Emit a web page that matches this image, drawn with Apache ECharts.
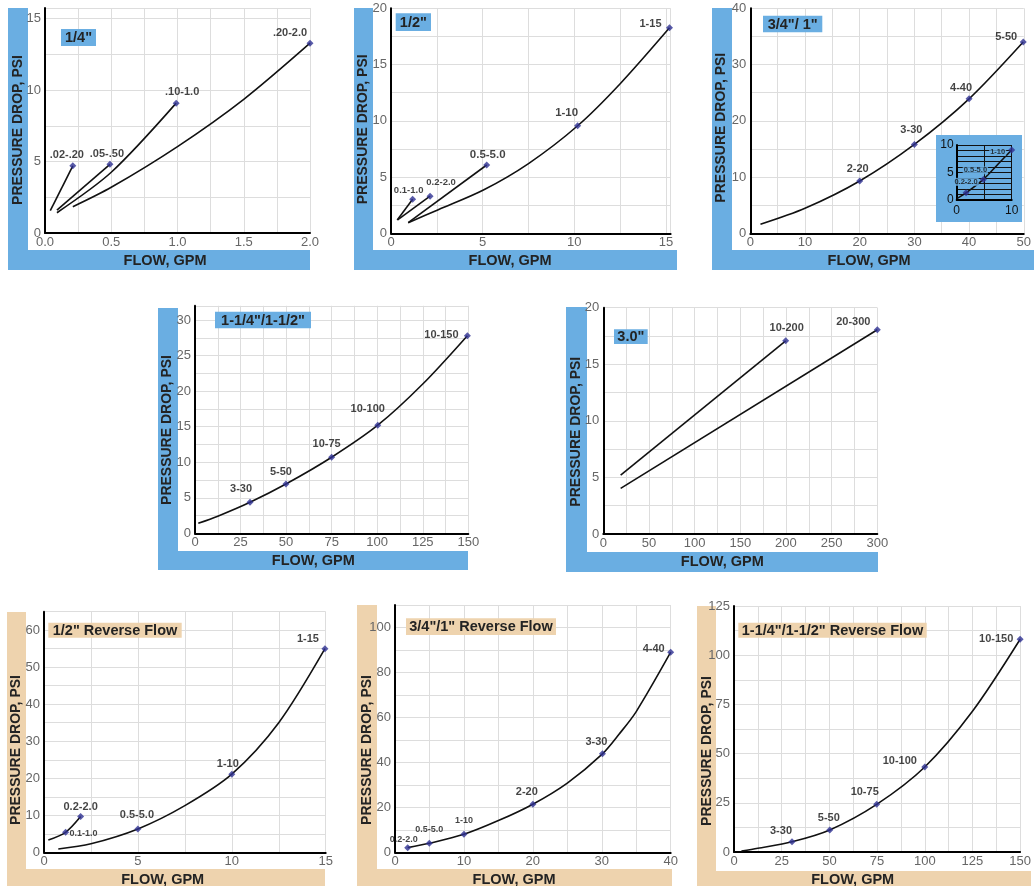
<!DOCTYPE html>
<html><head><meta charset="utf-8">
<script src="https://cdn.jsdelivr.net/npm/echarts@6/dist/echarts.min.js"></script>
<style>html,body{margin:0;padding:0;background:#fff}#c{width:1034px;height:886px}</style>
</head><body><div id="c"></div>
<script>
// ---------------- DATA ----------------
// Panel 1: 1/4"
const Q14_CURVE_02_20 = [[0.04,1.56],[0.21,4.7]];
const Q14_CURVE_05_50 = [[0.09,1.6],[0.49,4.81]];
const Q14_CURVE_10_10 = [[0.09,1.42],[0.5,4.25],[0.99,9.09]];
const Q14_CURVE_20_20 = [[0.21,1.84],[0.5,3.2],[1.0,6.05],[1.5,9.36],[2.0,13.29]];
const Q14_MARKERS = [[0.21,4.7],[0.49,4.81],[0.99,9.09],[2.0,13.29]];
const Q14_NAMES = ['.02-.20','.05-.50','.10-1.0','.20-2.0'];
const Q14_XTICKS = [0,0.5,1,1.5,2];
const Q14_YTICKS = [0,5,10,15];

// Panel 2: 1/2"
const H12_CURVE_01_10 = [[0.34,1.18],[1.18,3.02]];
const H12_CURVE_02_20 = [[0.36,1.2],[2.13,3.3]];
const H12_CURVE_05_50 = [[0.94,0.94],[5.22,6.07]];
const H12_CURVE_1_15 = [[0.94,0.94],[2.58,2.1],[5.04,3.85],[7.5,6.2],[10.18,9.56],[12.5,13.3],[15.19,18.27]];
const H12_MARKERS = [[1.18,3.02],[2.13,3.3],[5.22,6.07],[10.18,9.56],[15.19,18.27]];
const H12_NAMES = ['0.1-1.0','0.2-2.0','0.5-5.0','1-10','1-15'];
const H12_XTICKS = [0,5,10,15];
const H12_YTICKS = [0,5,10,15,20];

// Panel 3: 3/4"/ 1"
const T34_CURVE = [[1.86,1.6],[10,4.44],[20,9.3],[30,15.8],[40,23.9],[49.9,34.0]];
const T34_MARKERS = [[20,9.3],[30,15.8],[40,23.9],[49.9,34.0]];
const T34_NAMES = ['2-20','3-30','4-40','5-50'];
const T34_XTICKS = [0,10,20,30,40,50];
const T34_YTICKS = [0,10,20,30,40];
// inset of panel 3
const T34_INSET_CURVE = [[0.1,0.3],[1.7,1.3],[4.85,3.75],[7.5,6.5],[10,9.1]];
const T34_INSET_MARKERS = [[1.7,1.3],[4.85,3.75],[10,9.1]];
const T34_INSET_NAMES = ['0.2-2.0','0.5-5.0','1-10'];
const T34_INSET_XTICKS = [0,10];
const T34_INSET_YTICKS = [0,5,10];

// Panel 4: 1-1/4"/1-1/2"
const Q114_CURVE = [[1.8,1.4],[12.5,2.4],[30.2,4.36],[49.9,6.93],[75,10.7],[100.3,15.2],[125,21.0],[149.5,27.8]];
const Q114_MARKERS = [[30.2,4.36],[49.9,6.93],[75,10.7],[100.3,15.2],[149.5,27.8]];
const Q114_NAMES = ['3-30','5-50','10-75','10-100','10-150'];
const Q114_XTICKS = [0,25,50,75,100,125,150];
const Q114_YTICKS = [0,5,10,15,20,25,30];

// Panel 5: 3.0"
const T30_CURVE_10_200 = [[19,5.2],[199.7,17.07]];
const T30_CURVE_20_300 = [[19,4.03],[300,18.05]];
const T30_MARKERS = [[199.7,17.07],[300,18.05]];
const T30_NAMES = ['10-200','20-300'];
const T30_XTICKS = [0,50,100,150,200,250,300];
const T30_YTICKS = [0,5,10,15,20];

// Panel 6: 1/2" Reverse Flow
const R12_CURVE_LOW = [[0.23,3.33],[1.15,5.4],[1.95,9.65]];
const R12_CURVE_MAIN = [[0.76,0.9],[2.5,2.3],[5,6.3],[7.5,12.6],[10,21.1],[12.5,35],[14.96,55]];
const R12_MARKERS = [[1.15,5.4],[1.95,9.65],[5,6.3],[10,21.1],[14.96,55]];
const R12_NAMES = ['0.1-1.0','0.2-2.0','0.5-5.0','1-10','1-15'];
const R12_XTICKS = [0,5,10,15];
const R12_YTICKS = [0,10,20,30,40,50,60];

// Panel 7: 3/4"/1" Reverse Flow
const R34_CURVE = [[1.84,2.07],[4.98,4.0],[10,8.0],[15,14.1],[20,21.4],[25,30.8],[30.1,43.8],[32.5,52.5],[35,62.6],[40,89]];
const R34_MARKERS = [[1.84,2.07],[4.98,4.0],[10,8.0],[20,21.4],[30.1,43.8],[40,89]];
const R34_NAMES = ['0.2-2.0','0.5-5.0','1-10','2-20','3-30','4-40'];
const R34_XTICKS = [0,10,20,30,40];
const R34_YTICKS = [0,20,40,60,80,100];

// Panel 8: 1-1/4"/1-1/2" Reverse Flow
const R114_CURVE = [[3.9,0.5],[12.5,1.9],[30.4,5.2],[50.2,11.2],[74.8,24.2],[100,43.2],[125,71.5],[150,108.1]];
const R114_MARKERS = [[30.4,5.2],[50.2,11.2],[74.8,24.2],[100,43.2],[150,108.1]];
const R114_NAMES = ['3-30','5-50','10-75','10-100','10-150'];
const R114_XTICKS = [0,25,50,75,100,125,150];
const R114_YTICKS = [0,25,50,75,100,125];

// ---------------- LAYOUT & STYLE ----------------
const BLUE = '#6aaee2', TAN = '#eed3ae', MARK = '#2e3192';
const TICK_FONT = '"Liberation Sans Narrow","Arial Narrow",sans-serif';
const BOLD_FONT = '"Liberation Sans",Arial,sans-serif';

const GRIDS = [
  {left:45, top:8, width:265, height:225},
  {left:391, top:8.3, width:279.6, height:225},
  {left:750.3, top:8.3, width:280, height:225},
  {left:195, top:305.8, width:273.3, height:227.5},
  {left:603.3, top:307.7, width:274, height:226.3},
  {left:44, top:611.7, width:281.7, height:240.6},
  {left:395, top:605, width:275.7, height:247.3},
  {left:734, top:606, width:296, height:246},
  {left:956.7, top:145, width:55, height:55}
];

function fmtFor(vals, dec){
  return v => vals.some(t => Math.abs(t - v) < 1e-6) ? (dec != null ? v.toFixed(dec) : String(v)) : '';
}
function mkAxis(grid, min, max, interval, ticks, isX, o){
  o = o || {};
  return {
    type:'value', gridIndex:grid, min:min, max:max, interval:interval, z:o.z || 0,
    axisLine:{show:true, onZero:false, lineStyle:{color:'#000', width:2}},
    axisTick:{show:false},
    splitLine:{show:true, lineStyle:{color:o.split || '#dddddd', width:1}},
    axisLabel:{show:true, margin: o.margin != null ? o.margin : (isX ? 3 : 4), color:o.color || '#666666',
      fontFamily:o.font || TICK_FONT, fontSize:o.size || 13, formatter:fmtFor(ticks, o.dec),
      showMinLabel:true, showMaxLabel:true}
  };
}
const xAxes = [
  mkAxis(0,0,2,0.25,Q14_XTICKS,true,{dec:1}),
  mkAxis(1,0,15.25,2.5,H12_XTICKS,true),
  mkAxis(2,0,50,5,T34_XTICKS,true),
  mkAxis(3,0,150,12.5,Q114_XTICKS,true),
  mkAxis(4,0,300,25,T30_XTICKS,true),
  mkAxis(5,0,15,2.5,R12_XTICKS,true),
  mkAxis(6,0,40,5,R34_XTICKS,true),
  mkAxis(7,0,150,12.5,R114_XTICKS,true),
  mkAxis(8,0,10,5,T34_INSET_XTICKS,true,{z:6, split:'#111', color:'#111', font:BOLD_FONT, size:12, margin:5})
];
const yAxes = [
  mkAxis(0,0,15.75,2.5,Q14_YTICKS,false),
  mkAxis(1,0,20,2.5,H12_YTICKS,false),
  mkAxis(2,0,40,5,T34_YTICKS,false),
  mkAxis(3,0,32,2.5,Q114_YTICKS,false),
  mkAxis(4,0,20,2.5,T30_YTICKS,false),
  mkAxis(5,0,65,5,R12_YTICKS,false),
  mkAxis(6,0,110,10,R34_YTICKS,false),
  mkAxis(7,0,125,12.5,R114_YTICKS,false),
  mkAxis(8,0,10,1,T34_INSET_YTICKS,false,{z:6, split:'#111', color:'#111', font:BOLD_FONT, size:12, margin:3})
];

function lineS(idx, data, z){
  return {type:'line', xAxisIndex:idx, yAxisIndex:idx, data:data, smooth:0.3,
    symbol:'none', lineStyle:{color:'#111', width:1.6}, z:z || 3, silent:true};
}
function markS(idx, pts, names, offsets, sizes, z, bg){
  return {type:'scatter', xAxisIndex:idx, yAxisIndex:idx, symbol:'diamond', symbolSize:7, z:z || 4,
    itemStyle:{color:MARK}, silent:true,
    data: pts.map((p,i) => {
      const s = sizes ? sizes[i] : 11;
      const lab = {offset:offsets[i], fontSize:s, fontFamily: s < 10 ? TICK_FONT : BOLD_FONT};
      if (bg) { lab.backgroundColor = bg; lab.padding = [0,1]; }
      return {name:names[i], value:p, label:lab};
    }),
    label:{show:true, position:'inside', formatter:'{b}', color:'#141414', fontWeight:'bold', fontSize:11}
  };
}

const series = [
  lineS(0,Q14_CURVE_02_20), lineS(0,Q14_CURVE_05_50), lineS(0,Q14_CURVE_10_10), lineS(0,Q14_CURVE_20_20),
  markS(0,Q14_MARKERS,Q14_NAMES,[[-6,-11],[-3,-10],[6,-11],[-20,-10]]),
  lineS(1,H12_CURVE_01_10), lineS(1,H12_CURVE_02_20), lineS(1,H12_CURVE_05_50), lineS(1,H12_CURVE_1_15),
  markS(1,H12_MARKERS,H12_NAMES,[[-4,-9],[11,-14],[1,-10],[-11,-13],[-19,-4]],[9.5,9.5,11.5,11.5,11]),
  lineS(2,T34_CURVE),
  markS(2,T34_MARKERS,T34_NAMES,[[-2,-12],[-3,-14],[-8,-11],[-17,-5]]),
  lineS(8,T34_INSET_CURVE,7),
  markS(8,T34_INSET_MARKERS,T34_INSET_NAMES,[[0,-11],[-8,-9],[-14,2]],[7.5,7.5,7.5],8,BLUE),
  lineS(3,Q114_CURVE),
  markS(3,Q114_MARKERS,Q114_NAMES,[[-9,-13],[-5,-12],[-5,-13],[-10,-16],[-26,-1]]),
  lineS(4,T30_CURVE_10_200), lineS(4,T30_CURVE_20_300),
  markS(4,T30_MARKERS,T30_NAMES,[[1,-13],[-24,-8]]),
  lineS(5,R12_CURVE_LOW), lineS(5,R12_CURVE_MAIN),
  markS(5,R12_MARKERS,R12_NAMES,[[18,1],[0,-10],[-1,-14],[-4,-10],[-17,-10]],[9,11,11,11,11]),
  lineS(6,R34_CURVE),
  markS(6,R34_MARKERS,R34_NAMES,[[-4,-8],[0,-14],[0,-14],[-6,-12],[-6,-12],[-17,-3]],[9,9,9,11,11,11]),
  lineS(7,R114_CURVE),
  markS(7,R114_MARKERS,R114_NAMES,[[-11,-11],[-1,-12],[-12,-12],[-25,-6],[-24,0]])
];

// backgrounds (L-shaped strips), axis titles, title boxes
const STRIPS = [
  [BLUE,[8,8,20,262],[8,250,302,20]],
  [BLUE,[354,8,19,262],[354,250,323,20]],
  [BLUE,[712,8,20,262],[712,250,322,20]],
  [BLUE,[158,308,20,262],[158,551,310,19]],
  [BLUE,[566,307,21,265],[566,552,312,20]],
  [TAN,[7,612,19,274],[7,869,318,17]],
  [TAN,[357,605,20,281],[357,869,315,17]],
  [TAN,[697,606,19,280],[697,871,334,15]]
];
const AXIS_TITLES = [
  [[18,130],[165,261]], [[363.3,129.3],[510,261]], [[721.3,127.7],[869,261]],
  [[167.3,430],[313.3,561]], [[575.7,431.7],[722.3,561.7]],
  [[16,750],[162.7,880]], [[366.7,750],[514,880]], [[706.7,751],[852.7,880]]
];
const TITLES = [
  ['1/4"',BLUE,[61,29,35,17]],
  ['1/2"',BLUE,[395.7,13.3,35.3,17.7]],
  ['3/4"/ 1"',BLUE,[763,15.7,59.3,16.6]],
  ['1-1/4"/1-1/2"',BLUE,[215,311.7,96,16.6]],
  ['3.0"',BLUE,[614,329.3,33.7,14.7]],
  ['1/2" Reverse Flow',TAN,[48.3,622.7,133.4,15]],
  ['3/4"/1" Reverse Flow',TAN,[406,618.3,150,16.7]],
  ['1-1/4"/1-1/2" Reverse Flow',TAN,[738.3,622.7,188.4,15]]
];
const graphics = [];
STRIPS.forEach(s => {
  [s[1], s[2]].forEach(r => graphics.push({type:'rect', silent:true, z:0,
    shape:{x:r[0], y:r[1], width:r[2], height:r[3]}, style:{fill:s[0]}}));
});
const txt = (t, x, y, font, rot, z) => ({type:'text', silent:true, z:z, x:x, y:y, rotation:rot || 0,
  style:{text:t, font:font, fill:'#232323', align:'center', verticalAlign:'middle', textAlign:'center', textVerticalAlign:'middle'}});
AXIS_TITLES.forEach(a => {
  graphics.push(txt('PRESSURE DROP, PSI', a[0][0], a[0][1], 'bold 14px "Liberation Sans", Arial, sans-serif', Math.PI/2, 1));
  graphics.push(txt('FLOW, GPM', a[1][0], a[1][1], 'bold 14.5px "Liberation Sans", Arial, sans-serif', 0, 1));
});
TITLES.forEach(t => {
  const r = t[2];
  graphics.push({type:'rect', silent:true, z:10, shape:{x:r[0], y:r[1], width:r[2], height:r[3]}, style:{fill:t[1]}});
  graphics.push(txt(t[0], r[0] + r[2]/2, r[1] + r[3]/2 + 0.5, 'bold 14.5px "Liberation Sans", Arial, sans-serif', 0, 11));
});
// inset background box
graphics.push({type:'rect', silent:true, z:5, shape:{x:936, y:135, width:86, height:87}, style:{fill:BLUE}});

const chart = echarts.init(document.getElementById('c'), null, {renderer:'canvas'});
chart.setOption({
  animation:false,
  backgroundColor:'#ffffff',
  grid: GRIDS.map(g => Object.assign({containLabel:false}, g)),
  xAxis: xAxes,
  yAxis: yAxes,
  series: series,
  graphic: {elements: graphics}
});
</script></body></html>
